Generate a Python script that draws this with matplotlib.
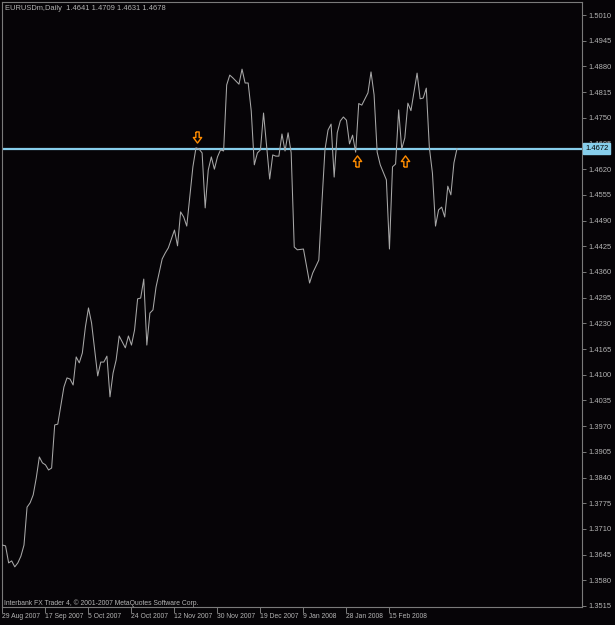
import matplotlib
matplotlib.use("Agg")
import matplotlib.pyplot as plt
from matplotlib.transforms import blended_transform_factory

# EURUSDm daily closes, bar 0 = 29 Aug 2007
bars = [0, 1, 2, 3, 4, 5, 6, 7, 8, 9, 10, 11, 12, 13, 14, 15, 16, 17, 18,
        20, 21, 22, 23, 24, 25, 26, 27, 28, 29, 30, 31, 32, 33, 34, 35, 36, 37, 38,
        40, 41, 42, 43, 44, 45, 46, 47, 48, 49, 50, 52, 53, 54, 56, 57, 58, 59, 60,
        61, 62, 63, 64, 65, 66, 67, 68, 69, 70, 71, 72, 73, 74, 75, 77, 78, 79, 80,
        81, 82, 83, 84, 85, 87, 88, 89, 90, 91, 92, 93, 94, 95, 96, 98, 100, 101,
        103, 104, 105, 106, 107, 108, 109, 110, 111, 112, 113, 114, 115, 116, 117,
        119, 120, 121, 122, 123, 125, 126, 127, 128, 129, 130, 131, 132, 133, 135,
        136, 137, 138, 139, 140, 141, 142, 143, 144, 145, 146, 147, 148]
closes = [1.3669, 1.3667, 1.3624, 1.3629, 1.3614, 1.3624, 1.3641, 1.3669, 1.3765,
          1.3776, 1.3796, 1.3839, 1.3892, 1.3877, 1.3872, 1.3859, 1.3864, 1.3973,
          1.3975, 1.4069, 1.4092, 1.4089, 1.4074, 1.4145, 1.4130, 1.4155, 1.4221,
          1.4269, 1.4231, 1.4163, 1.4097, 1.4132, 1.4132, 1.4147, 1.4044, 1.4104,
          1.4137, 1.4198, 1.4168, 1.4198, 1.4175, 1.4213, 1.4292, 1.4294, 1.4342,
          1.4175, 1.4256, 1.4264, 1.4322, 1.4393, 1.4408, 1.4421, 1.4466, 1.4426,
          1.4512, 1.4499, 1.4476, 1.4550, 1.4626, 1.4674, 1.4671, 1.4661, 1.4522,
          1.4618, 1.4651, 1.4620, 1.4651, 1.4669, 1.4666, 1.4833, 1.4858, 1.4851,
          1.4835, 1.4873, 1.4838, 1.4838, 1.4767, 1.4631, 1.4661, 1.4669, 1.4762,
          1.4595, 1.4656, 1.4653, 1.4653, 1.4709, 1.4666, 1.4712, 1.4661, 1.4423,
          1.4416, 1.4418, 1.4332, 1.4357, 1.4390, 1.4534, 1.4669, 1.4719, 1.4734,
          1.4600, 1.4712, 1.4742, 1.4752, 1.4744, 1.4684, 1.4706, 1.4663, 1.4786,
          1.4782, 1.4813, 1.4866, 1.4808, 1.4663, 1.4631, 1.4593, 1.4418, 1.4626,
          1.4633, 1.4770, 1.4671, 1.4699, 1.4787, 1.4768, 1.4863, 1.4798, 1.4800,
          1.4825, 1.4674, 1.4610, 1.4476, 1.4517, 1.4524, 1.4499, 1.4577, 1.4555,
          1.4636, 1.4672]

date_labels = ["29 Aug 2007", "17 Sep 2007", "5 Oct 2007", "24 Oct 2007",
               "12 Nov 2007", "30 Nov 2007", "19 Dec 2007", "9 Jan 2008",
               "28 Jan 2008", "15 Feb 2008"]
date_bars = [0, 14, 28, 42, 56, 70, 84, 98, 112, 126]

price_ticks = [1.3515, 1.3580, 1.3645, 1.3710, 1.3775, 1.3840, 1.3905, 1.3970,
               1.4035, 1.4100, 1.4165, 1.4230, 1.4295, 1.4360, 1.4425, 1.4490,
               1.4555, 1.4620, 1.4685, 1.4750, 1.4815, 1.4880, 1.4945, 1.5010]

bid = 1.4672
down_bars = [63.4]
down_prices = [1.4701]
up_bars = [115.5, 131.1]
up_prices = [1.4641, 1.4641]

header = "EURUSDm,Daily  1.4641 1.4709 1.4631 1.4678"
footer = "Interbank FX Trader 4, \u00a9 2001-2007 MetaQuotes Software Corp."

bg = "#060407"
fg = "#b4b4b4"
frame = "#7a7a7a"
bidcol = "#87CEEB"
arrowcol = "#FF8C00"
plt.rcParams["font.family"] = ["Liberation Sans", "DejaVu Sans"]

fig = plt.figure(figsize=(6.15, 6.25), dpi=100, facecolor=bg)
ax = fig.add_axes([2 / 615, 18 / 625, 580 / 615, 605 / 625])
ax.set_facecolor(bg)

ax.plot(bars, closes, color="#a8a8a8", lw=0.75, zorder=3)
ax.axhline(bid, color=bidcol, lw=1.6, zorder=2)

up_shape = [(-0.3, -1), (0.3, -1), (0.3, 0), (0.75, 0), (0, 1), (-0.75, 0),
            (-0.3, 0), (-0.3, -1)]
down_shape = [(x, -y) for x, y in up_shape]
ax.plot(down_bars, down_prices, ls="none", marker=down_shape, ms=8,
        mfc="none", mec=arrowcol, mew=1.0, zorder=4)
ax.plot(up_bars, up_prices, ls="none", marker=up_shape, ms=8,
        mfc="none", mec=arrowcol, mew=1.0, zorder=4)

ax.set_xlim(-0.16, 188.7)
ax.set_ylim(1.35124, 1.50429)

for s in ax.spines.values():
    s.set_color(frame)
    s.set_linewidth(0.8)

ax.yaxis.tick_right()
ax.set_yticks(price_ticks)
ax.set_yticklabels([f"{p:.4f}" for p in price_ticks])
ax.tick_params(axis="y", direction="out", length=3, width=0.7, color=frame,
               labelcolor=fg, labelsize=5.4, pad=1.5)

ax.set_xticks(date_bars)
ax.set_xticklabels(date_labels, ha="left")
ax.tick_params(axis="x", direction="out", length=4, width=0.7, color=frame,
               labelcolor=fg, labelsize=4.9, pad=0.5)

tr = blended_transform_factory(ax.transAxes, ax.transData)
ax.text(1.0 + 3 / 580, bid, f"{bid:.4f}", transform=tr, ha="left", va="center",
        color="black", fontsize=5.4, clip_on=False, zorder=6,
        bbox=dict(boxstyle="square,pad=0.25", fc=bidcol, ec=bidcol))

fig.text(5 / 615, 1 - 8 / 625, header, ha="left", va="center", color=fg,
         fontsize=5.4)
fig.text(4 / 615, 1 - 603 / 625, footer, ha="left", va="center", color=fg,
         fontsize=4.9)

fig.savefig("out.png", dpi=100, facecolor=bg)
